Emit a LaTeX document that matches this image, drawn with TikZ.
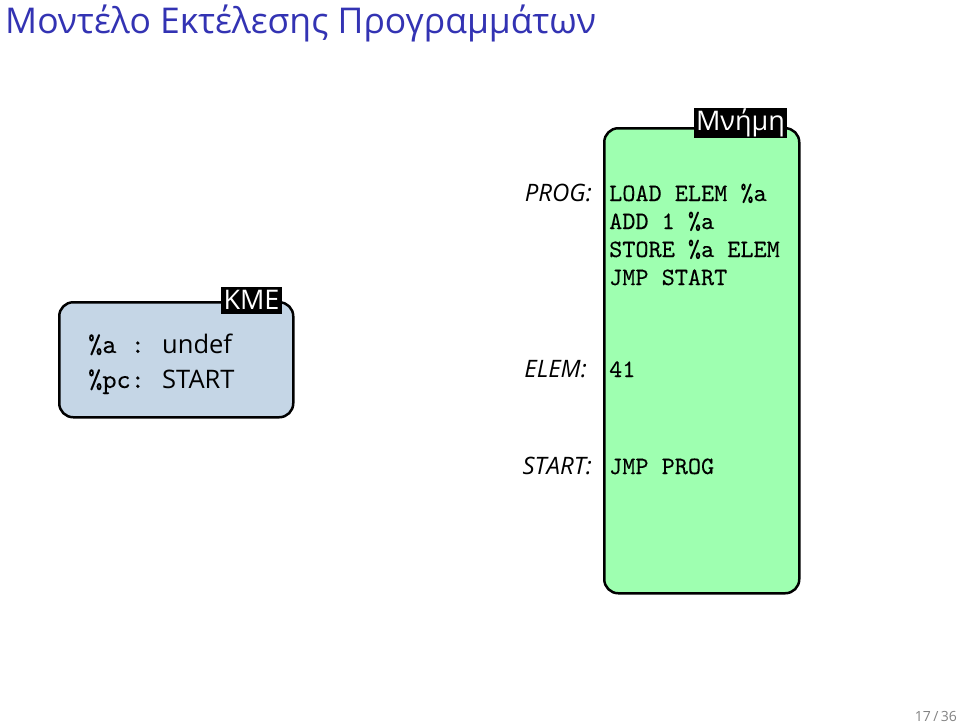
\documentclass[tikz,border=0pt]{standalone}
\usepackage{fontspec}
\setmainfont{Open Sans}
\setmonofont{lmmono10-regular.otf}[FakeBold=0.1]
\definecolor{titleblue}{RGB}{51,51,179}
\definecolor{kmefill}{RGB}{197,214,230}
\definecolor{memfill}{RGB}{158,255,176}
\definecolor{pagegray}{RGB}{130,130,130}
\tikzset{
  regbox/.style={draw=black, line width=2.5pt, rounded corners=14pt, inner sep=0pt, anchor=north west},
  tagbox/.style={fill=black, text=white, inner xsep=2.5pt, inner ysep=0pt, font=\fontsize{27}{30}\selectfont},
  body/.style={anchor=base west, inner sep=0pt, font=\fontsize{25.5}{30}\selectfont},
  regname/.style={anchor=base west, inner sep=0pt, font=\ttfamily\fontsize{27}{30}\selectfont},
  code/.style={anchor=base west, inner sep=0pt, font=\ttfamily\fontsize{25}{28}\selectfont},
  addr/.style={anchor=base east, inner sep=0pt, font=\itshape\fontsize{24}{28}\selectfont}
}
\begin{document}
\begin{tikzpicture}[x=1pt,y=-1pt]
\useasboundingbox (0,0) rectangle (960,723);
\node[anchor=base west, inner sep=0pt, text=titleblue, font=\fontsize{35.5}{40}\selectfont] (title) at (5,33) {Μοντέλο Εκτέλεσης Προγραμμάτων};
% CPU box
\node[regbox, fill=kmefill, minimum width=234pt, minimum height=115pt] (kme) at (58,301) {};
\node[tagbox, minimum height=27pt] (kmetag) at (251.5,300) {KME};
\node[regname] (rega) at (88,353) {\%a :};
\node[body] (vala) at (162,353) {undef};
\node[regname] (regpc) at (88,388) {\%pc:};
\node[body] (valpc) at (162,388) {START};
% memory box
\node[regbox, fill=memfill, minimum width=195pt, minimum height=465pt] (mem) at (603,127) {};
\node[tagbox, minimum height=30pt] (memtag) at (740.5,122.5) {Μνήμη};
\node[addr] (prog) at (592,201) {PROG:};
\node[code] (l1) at (609,201) {LOAD ELEM \%a};
\node[code] (l2) at (609,229) {ADD 1 \%a};
\node[code] (l3) at (609,257) {STORE \%a ELEM};
\node[code] (l4) at (609,285) {JMP START};
\node[addr] (elem) at (587,377) {ELEM:};
\node[code] (l5) at (609,377) {41};
\node[addr] (start) at (592,474) {START:};
\node[code] (l6) at (609,474) {JMP PROG};
\node[anchor=base east, inner sep=0pt, text=pagegray, font=\fontsize{14}{16}\selectfont] (page) at (957,721) {17\,/\,36};
\end{tikzpicture}
\end{document}
